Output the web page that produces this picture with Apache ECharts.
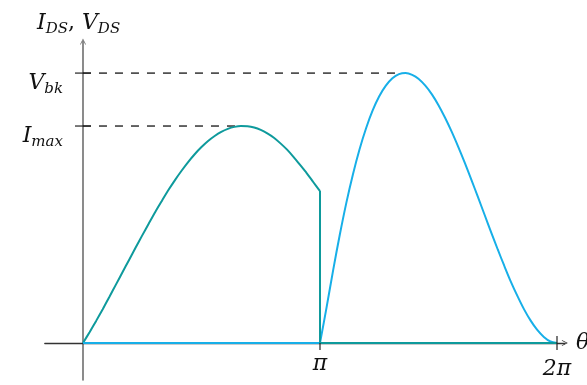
<!DOCTYPE html>
<html>
<head>
<meta charset="utf-8">
<script src="https://cdn.jsdelivr.net/npm/echarts@6/dist/echarts.min.js"></script>
<style>
  html, body { margin: 0; padding: 0; background: #fff; }
  #c { width: 587px; height: 385px; }
</style>
</head>
<body>
<div id="c"></div>
<script>
// Switch current I_DS while the switch conducts (0..pi), in units of I_max, theta in degrees
const thetaOn = [0, 5, 10, 15, 20, 25, 30, 35, 40, 45, 50, 55, 60, 65, 70, 75, 80, 85, 90,
  95, 100, 105, 110, 115, 120, 125, 130, 135, 140, 145, 150, 155, 160, 165, 170, 175, 180];
const idsOn = [0, 0.050, 0.102, 0.156, 0.212, 0.269, 0.326, 0.383, 0.440, 0.496, 0.551, 0.605, 0.656, 0.706, 0.752, 0.795, 0.835, 0.871, 0.903,
  0.931, 0.954, 0.973, 0.987, 0.996, 1.0, 0.999, 0.993, 0.982, 0.966, 0.946, 0.920, 0.891, 0.857, 0.820, 0.782, 0.741, 0.700];
// Current after turn-off: drops to zero at pi and stays there
const thetaIdsOff = [180, 180, 360];
const idsOff = [0.700, 0, 0];
// Switch voltage V_DS: zero while on, then the off-state hump
const thetaVdsOn = [0, 180];
const vdsOn = [0, 0];
const thetaOff = [180, 185, 190, 195, 200, 205, 210, 215, 220, 225, 230, 235, 240, 245, 250, 255, 260, 265, 270,
  275, 280, 285, 290, 295, 300, 305, 310, 315, 320, 325, 330, 335, 340, 345, 350, 355, 360];
const vdsOff = [0, 0.164, 0.336, 0.498, 0.646, 0.777, 0.892, 0.990, 1.072, 1.137, 1.186, 1.220, 1.239, 1.244, 1.236, 1.217, 1.186, 1.146, 1.096,
  1.038, 0.974, 0.904, 0.830, 0.752, 0.672, 0.591, 0.510, 0.431, 0.355, 0.282, 0.216, 0.155, 0.103, 0.060, 0.028, 0.007, 0];
// Reference levels and how far their dashed guides run
const levelNames = ['I', 'V'];
const levelValues = [1.0, 1.244];
const levelGuideEnd = [120, 240];
// Theta tick marks
const xTickValues = [180, 360];
const xTickLabels = ['π', '2π'];

const TEAL = '#0E9A9C';
const BLUE = '#17AFE8';
const FONT = "'DejaVu Serif', serif";

const zip = (xs, ys) => xs.map((x, i) => [x, ys[i]]);
const chevron = 'path://M0,100 L50,0 L100,100 L86,100 L50,28 L14,100 Z';

const chart = echarts.init(document.getElementById('c'), null, { renderer: 'canvas' });

const guide = (i) => ({
  type: 'line', data: [[0, levelValues[i]], [levelGuideEnd[i], levelValues[i]]],
  symbol: 'none', silent: true, z: 1,
  lineStyle: { color: '#000', width: 1.2, type: [8, 8] }
});

const option = {
  animation: false,
  backgroundColor: '#fff',
  grid: { left: 44.8, right: 22.1, top: 41.4, bottom: 5.1 },
  xAxis: {
    type: 'value', min: -29, max: 366,
    axisLine: { onZero: true, lineStyle: { color: '#333', width: 1.3 },
      symbol: ['none', chevron], symbolSize: [8, 6] },
    axisTick: { show: false }, axisLabel: { show: false }, splitLine: { show: false }
  },
  yAxis: {
    type: 'value', min: -0.17, max: 1.39,
    axisLine: { onZero: true, lineStyle: { color: '#6f6f6f', width: 1.6 },
      symbol: ['none', chevron], symbolSize: [8, 6] },
    axisTick: { show: false }, axisLabel: { show: false }, splitLine: { show: false }
  },
  series: [
    guide(0),
    guide(1),
    {
      name: 'I_DS', type: 'line', data: zip(thetaOn, idsOn), smooth: 0.3,
      symbol: 'none', lineStyle: { color: TEAL, width: 2 }, z: 3
    },
    {
      type: 'line', data: zip(thetaVdsOn, vdsOn),
      symbol: 'none', lineStyle: { color: BLUE, width: 2 }, z: 4
    },
    {
      name: 'V_DS', type: 'line', data: zip(thetaOff, vdsOff), smooth: 0.3,
      symbol: 'none', lineStyle: { color: BLUE, width: 2 }, z: 4
    },
    {
      type: 'line', data: zip(thetaIdsOff, idsOff),
      symbol: 'none', lineStyle: { color: TEAL, width: 2 }, z: 5
    }
  ]
};
chart.setOption(option);

// Ticks and labels placed through the grid's own coordinate conversion
const px = (x, y) => chart.convertToPixel({ gridIndex: 0 }, [x, y]);
const base = { fill: '#111', color: '#111' };
const rich = {
  m: Object.assign({ fontFamily: FONT, fontStyle: 'italic', fontSize: 22, lineHeight: 25, padding: [0, 0, 2, 0], verticalAlign: 'bottom' }, base),
  s: Object.assign({ fontFamily: FONT, fontStyle: 'italic', fontSize: 15, lineHeight: 17, verticalAlign: 'bottom' }, base),
  n: Object.assign({ fontFamily: FONT, fontStyle: 'normal', fontSize: 22, lineHeight: 25, padding: [0, 0, 2, 0], verticalAlign: 'bottom' }, base)
};
const graphics = [];
const tickStyle = { stroke: '#222', lineWidth: 1.2 };

levelValues.forEach((v, i) => {
  const p = px(0, v);
  graphics.push({ type: 'line', shape: { x1: p[0] - 8, y1: p[1], x2: p[0] + 8, y2: p[1] }, style: tickStyle, z: 10 });
  const text = levelNames[i] === 'I' ? '{m|I}{s|max}' : '{m|V}{s|bk}';
  graphics.push({ type: 'text', x: p[0] - 20, y: p[1] + 11, z: 10,
    style: { text, rich, align: 'right', verticalAlign: 'middle', textAlign: 'right', textVerticalAlign: 'middle' } });
});

xTickValues.forEach((t, i) => {
  const p = px(t, 0);
  graphics.push({ type: 'line', shape: { x1: p[0], y1: p[1] - (i === 1 ? 7 : 0), x2: p[0], y2: p[1] + 7 }, style: tickStyle, z: 10 });
  graphics.push({ type: 'text', x: p[0], y: p[1] + (i === 1 ? 27 : 22), z: 10,
    style: { text: '{m|' + xTickLabels[i] + '}', rich, align: 'center', verticalAlign: 'middle', textAlign: 'center', textVerticalAlign: 'middle' } });
});

// Axis titles
const xEnd = px(366, 0);
graphics.push({ type: 'text', x: xEnd[0] + 11, y: xEnd[1] + 1, z: 10,
  style: { text: '{m|θ}', rich, align: 'left', verticalAlign: 'middle', textAlign: 'left', textVerticalAlign: 'middle' } });
graphics.push({ type: 'text', x: 37, y: 24, z: 10,
  style: { text: '{m|I}{s|DS}{n|, }{m|V}{s|DS}', rich, align: 'left', verticalAlign: 'middle', textAlign: 'left', textVerticalAlign: 'middle' } });

chart.setOption({ graphic: { elements: graphics } });
</script>
</body>
</html>
